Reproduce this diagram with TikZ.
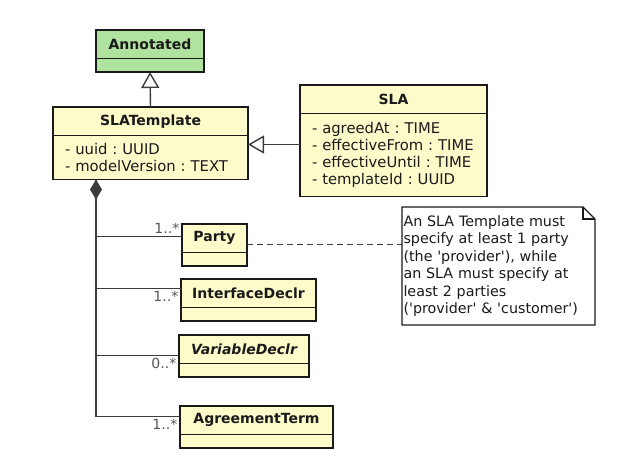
\documentclass[tikz,border=0pt]{standalone}
\usepackage{fontspec}
\setmainfont{DejaVu Sans}
\usetikzlibrary{positioning, arrows.meta, calc, backgrounds}
\definecolor{clsfill}{HTML}{FEFBCB}
\definecolor{basefill}{HTML}{B0E2A0}
\definecolor{ink}{HTML}{1A1A1A}
\definecolor{mute}{HTML}{555555}
\tikzset{
  clshead/.style = {rectangle, draw=ink, line width=1.8pt, fill=clsfill, outer sep=0pt,
                    inner sep=0pt, minimum height=28.5pt, text=ink,
                    font=\fontsize{14}{16}\selectfont\bfseries},
  clsbody/.style = {rectangle, draw=ink, line width=1.8pt, fill=clsfill, outer sep=0pt,
                    inner xsep=12pt, inner ysep=0pt, minimum height=13.5pt, align=left,
                    text=ink, font=\fontsize{14.8}{17}\selectfont\frenchspacing},
  gen/.style     = {-{Triangle[open, length=16pt, width=18pt]}, line width=1.4pt, draw=ink!85},
  assoc/.style   = {line width=1.4pt, draw=ink!85},
  mult/.style    = {font=\fontsize{14}{15}\selectfont, text=mute, inner sep=2pt},
}

\begin{document}
\begin{tikzpicture}[x=1pt, y=-1pt,
    notebox/.style={rectangle, outer sep=0pt, inner xsep=1.5pt, inner ysep=0pt,
                    minimum width=193pt, minimum height=118pt, text width=190pt,
                    align=left, text=ink, font=\fontsize{14.3}{17.5}\selectfont},
    noteline/.style={draw=ink, line width=1.1pt, fill=white},
    anchorln/.style={draw=ink!85, line width=1.1pt, dash pattern=on 6pt off 4pt},
  ]
  \useasboundingbox (0,0) rectangle (617,469);

  % base class
  \node[clshead, fill=basefill, minimum width=108pt, anchor=north west] (annoth) at (96,30) {Annotated};
  \node[clsbody, fill=basefill, minimum width=108pt, below=0pt of annoth] (annotb) {};

  % template and agreement
  \node[clshead, minimum width=195pt, anchor=north west] (tmplh) at (53,107) {SLATemplate};
  \node[clsbody, text width=171pt, minimum height=44pt, below=0pt of tmplh] (tmplb)
       {\mbox{- uuid : UUID}\\\mbox{- modelVersion : TEXT}};
  \node[clshead, minimum width=187pt, anchor=north west] (slah) at (300,85) {SLA};
  \node[clsbody, text width=163pt, minimum height=83pt, below=0pt of slah] (slab)
       {\mbox{- agreedAt : TIME}\\\mbox{- effectiveFrom : TIME}\\\mbox{- effectiveUntil : TIME}\\\mbox{- templateId : UUID}};

  \draw[gen] (tmplh.north) -- (annotb.south);
  \draw[gen] ([yshift=10.5pt]slab.west) -- ([yshift=10.5pt]slab.west -| tmplb.east);

  % parts
  \node[clshead, minimum width=65pt, anchor=north west] (partyh) at (182,224) {Party};
  \node[clsbody, minimum width=65pt, below=0pt of partyh] (partyb) {};
  \node[clshead, minimum width=135pt, anchor=north west] (ifaceh) at (181,279) {InterfaceDeclr};
  \node[clsbody, minimum width=135pt, below=0pt of ifaceh] (ifaceb) {};
  \node[clshead, minimum width=130pt, anchor=north west, font=\fontsize{14}{16}\selectfont\bfseries\itshape] (varh) at (179,335) {VariableDeclr};
  \node[clsbody, minimum width=130pt, below=0pt of varh] (varb) {};
  \node[clshead, minimum width=153pt, anchor=north west] (agreeh) at (180,406) {AgreementTerm};
  \node[clsbody, minimum width=153pt, below=0pt of agreeh] (agreeb) {};

  \coordinate (root) at ($(tmplb.south west)+(43,0)$);
  \draw[assoc, {Diamond[length=20pt, width=12pt]}-] (root) |- ([yshift=3.5pt]agreeh.west)
       node[mult, below left] {1..*};
  \draw[assoc] (root) |- ([yshift=2pt]partyh.west) node[mult, above left] {1..*};
  \draw[assoc] (root) |- ([yshift=4.5pt]ifaceh.west) node[mult, below left] {1..*};
  \draw[assoc] (root) |- ([yshift=-6.5pt]varh.west) node[mult, below left] {0..*};

  % note
  \node[notebox, anchor=north west] (note) at (402,207)
       {An SLA Template must\\specify at least 1 party\\(the \textquotesingle provider\textquotesingle), while\\an SLA must specify at\\least 2 parties\\(\textquotesingle provider\textquotesingle{} \& \textquotesingle customer\textquotesingle)};
  \begin{scope}[on background layer]
    \draw[noteline] (note.north west) -- ([xshift=-12pt]note.north east) -- ([yshift=-12pt]note.north east)
         -- (note.south east) -- (note.south west) -- cycle;
    \draw[noteline, fill=none] ([xshift=-12pt]note.north east) |- ([yshift=-12pt]note.north east);
  \end{scope}
  \draw[anchorln] ([yshift=-6pt]partyh.east) -- ([yshift=-6pt]partyh.east -| note.west);
\end{tikzpicture}
\end{document}
